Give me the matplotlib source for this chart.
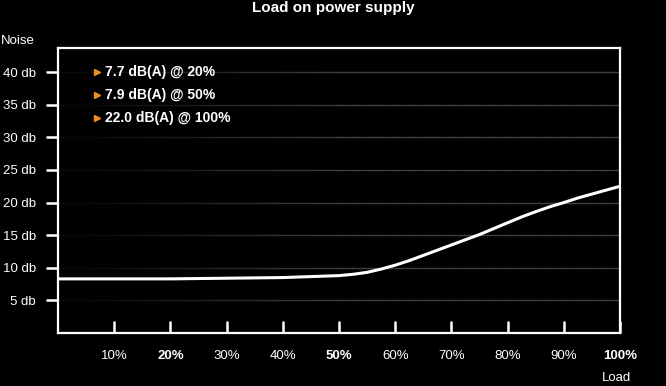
import matplotlib
matplotlib.use("Agg")
import matplotlib.pyplot as plt
import numpy as np
from matplotlib.collections import LineCollection

plt.rcParams['font.family'] = ['Liberation Sans', 'DejaVu Sans']

load_pct = [0, 5, 10, 15, 20, 25, 30, 35, 40, 45, 50, 52.5, 55, 57.5, 60, 62.5, 65, 67.5,
            70, 72.5, 75, 77.5, 80, 82.5, 85, 87.5, 90, 92.5, 95, 97.5, 100]
noise_db = [8.3, 8.3, 8.3, 8.3, 8.3, 8.35, 8.4, 8.45, 8.5, 8.65, 8.8, 9.0, 9.3, 9.8, 10.4, 11.1, 11.9, 12.7,
            13.5, 14.3, 15.1, 16.0, 16.9, 17.8, 18.6, 19.35, 20.0, 20.7, 21.3, 21.9, 22.5]

x_ticks = [10, 20, 30, 40, 50, 60, 70, 80, 90, 100]
x_labels = ['10%', '20%', '30%', '40%', '50%', '60%', '70%', '80%', '90%', '100%']
bold_x = ['20%', '50%', '100%']
y_ticks = [5, 10, 15, 20, 25, 30, 35, 40]
y_labels = ['5 db', '10 db', '15 db', '20 db', '25 db', '30 db', '35 db', '40 db']
notes = ['7.7 dB(A) @ 20%', '7.9 dB(A) @ 50%', '22.0 dB(A) @ 100%']

fig = plt.figure(figsize=(6.66, 3.86), dpi=100, facecolor='black')
ax = fig.add_axes([58/666, 53/386, 562/666, 285/386], facecolor='black')

# fading gridlines (darker at the left)
xs = np.linspace(0, 100, 101)
for y in y_ticks:
    segs = [[(xs[i], y), (xs[i + 1], y)] for i in range(len(xs) - 1)]
    a = np.clip((xs[:-1] - 5) / 45, 0, 1)
    cols = [(0.26, 0.26, 0.26, 0.15 + 0.85 * v) for v in a]
    ax.add_collection(LineCollection(segs, colors=cols, linewidths=1.0, zorder=1))

ax.plot(load_pct, noise_db, color='white', lw=2.2, zorder=3,
        solid_capstyle='butt', solid_joinstyle='round')

ax.set_xlim(0, 100)
ax.set_ylim(0, 43.7)

for s in ['left', 'right', 'top', 'bottom']:
    ax.spines[s].set_color('white')
    ax.spines[s].set_linewidth(1.6)

ax.set_xticks(x_ticks)
ax.set_xticklabels(x_labels)
ax.set_yticks(y_ticks)
ax.set_yticklabels(y_labels)
ax.tick_params(axis='x', direction='in', length=9, width=1.8, color='white',
               labelcolor='white', labelsize=9.5, pad=12)
ax.tick_params(axis='y', direction='out', length=9, width=1.8, color='white',
               labelcolor='white', labelsize=9.5, pad=7)
for lab in ax.get_xticklabels():
    if lab.get_text() in bold_x:
        lab.set_fontweight('bold')

fig.text(0.5, 0.997, 'Load on power supply', color='white', fontsize=11,
         fontweight='bold', ha='center', va='top')
fig.text(0.002, 0.895, 'Noise', color='white', fontsize=9.5, ha='left', va='center')
fig.text(0.925, 0.004, 'Load', color='white', fontsize=9.5, ha='center', va='bottom')

for i, t in enumerate(notes):
    yy = 40 - 3.55 * i
    ax.plot([6.9], [yy], marker='>', color='#f28c1e', markersize=5, zorder=4,
            linestyle='none')
    ax.text(8.4, yy, t, color='white', fontsize=10, fontweight='bold',
            ha='left', va='center', zorder=4)

fig.savefig('out.png', dpi=100, facecolor='black')
